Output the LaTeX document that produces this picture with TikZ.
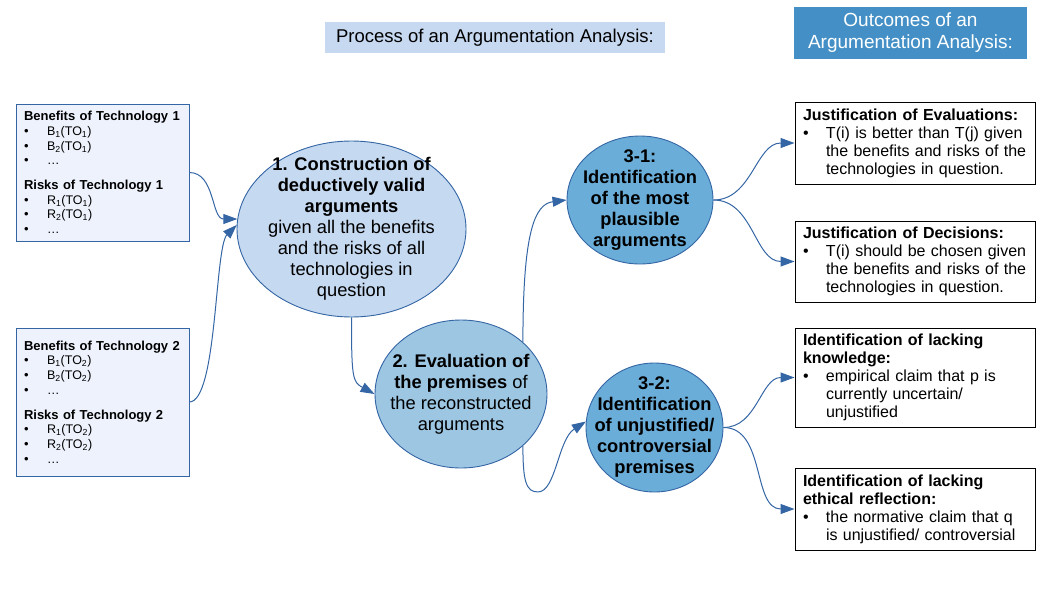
\documentclass[tikz,border=0pt]{standalone}
\usepackage{fontspec}
\setmainfont{Liberation Sans}
\usepackage{tikz}
\usetikzlibrary{arrows.meta, shapes.geometric, positioning}

\definecolor{linkblue}{HTML}{3465A4}
\definecolor{headfill}{HTML}{C6D9F1}
\definecolor{outfill}{HTML}{4490C6}
\definecolor{techfill}{HTML}{EEF2FC}
\definecolor{stepone}{HTML}{C5D9F0}
\definecolor{steptwo}{HTML}{9DC6E2}
\definecolor{stepthree}{HTML}{6AADD8}

\newcommand{\itm}[1]{\makebox[23pt][l]{\textbullet}{\fontsize{12.5}{14.7}\selectfont #1}}
\newcommand{\bul}{\makebox[23pt][l]{\textbullet}}
\newcommand{\ind}{\hspace*{23pt}}

\begin{document}
\begin{tikzpicture}[x=1pt, y=-1pt,
  head/.style={rectangle, fill=headfill, minimum width=340pt, minimum height=31pt,
               font=\fontsize{18.5}{22}\selectfont},
  outhead/.style={rectangle, fill=outfill, text=white, minimum width=233pt,
                  minimum height=52pt, inner sep=0pt, align=center,
                  font=\fontsize{19}{22}\selectfont},
  techbox/.style={rectangle, draw=linkblue, fill=techfill, text width=157pt,
                  inner xsep=8pt, align=left, font=\fontsize{13}{14.7}\selectfont},
  stepnode/.style={ellipse, draw=linkblue, line width=0.9pt, inner sep=-22pt,
                   align=center, font=\fontsize{18.3}{21}\selectfont},
  outbox/.style={rectangle, draw=black, line width=1pt, fill=white, text width=224pt,
                 inner xsep=8pt, align=left, font=\fontsize{16}{18}\selectfont},
  arrow/.style={-{Triangle[length=14pt, width=10pt]}, line width=1pt, linkblue},
]
\useasboundingbox (0,0) rectangle (1058,595);

% headings
\node[head] (title) at (495,37.5) {Process of an Argumentation Analysis:};
\node[outhead] (outcomes) at (910.5,33) {Outcomes of an\\Argumentation Analysis:};

% technologies
\node[techbox, minimum height=137pt] (techA) at (102.5,172.5)
  {\textbf{Benefits of Technology 1}\\
   \itm{B\textsubscript{1}(TO\textsubscript{1})}\\
   \itm{B\textsubscript{2}(TO\textsubscript{1})}\\
   \itm{\ldots}\\[10pt]
   \textbf{Risks of Technology 1}\\
   \itm{R\textsubscript{1}(TO\textsubscript{1})}\\
   \itm{R\textsubscript{2}(TO\textsubscript{1})}\\
   \itm{\ldots}};
\node[techbox, minimum height=148pt] (techB) at (102.5,402)
  {\textbf{Benefits of Technology 2}\\
   \itm{B\textsubscript{1}(TO\textsubscript{2})}\\
   \itm{B\textsubscript{2}(TO\textsubscript{2})}\\
   \itm{\ldots}\\[10pt]
   \textbf{Risks of Technology 2}\\
   \itm{R\textsubscript{1}(TO\textsubscript{2})}\\
   \itm{R\textsubscript{2}(TO\textsubscript{2})}\\
   \itm{\ldots}};

% process steps
\node[stepnode, fill=stepone, minimum width=229pt, minimum height=176pt] (construct) at (351.5,229)
  {\textbf{1. Construction of}\\ \textbf{deductively valid}\\ \textbf{arguments}\\
   given all the benefits\\ and the risks of all\\ technologies in\\ question};
\node[stepnode, fill=steptwo, minimum width=172pt, minimum height=148pt] (evaluate) at (461,394)
  {\textbf{2. Evaluation of}\\ \textbf{the premises} of\\ the reconstructed\\ arguments};
\node[stepnode, fill=stepthree, minimum width=146pt, minimum height=128pt,
      font=\fontsize{18.3}{21}\selectfont\bfseries] (plausible) at (640,200)
  {3-1:\\ Identification\\ of the most\\ plausible\\ arguments};
\node[stepnode, fill=stepthree, minimum width=137pt, minimum height=129pt,
      font=\fontsize{18.3}{21}\selectfont\bfseries] (premises) at (654.5,427.5)
  {3-2:\\ Identification\\ of unjustified/\\ controversial\\ premises};

% outcomes
\node[outbox, minimum height=82pt] (justEval) at (915,143)
  {\textbf{Justification of Evaluations:}\\
   \bul T(i) is better than T(j) given\\
   \ind the benefits and risks of the\\
   \ind technologies in question.};
\node[outbox, minimum height=81pt] (justDec) at (915,261.5)
  {\textbf{Justification of Decisions:}\\
   \bul T(i) should be chosen given\\
   \ind the benefits and risks of the\\
   \ind technologies in question.};
\node[outbox, minimum height=99pt] (lackKnow) at (915,377.5)
  {\textbf{Identification of lacking}\\
   \textbf{knowledge:}\\
   \bul empirical claim that p is\\
   \ind currently uncertain/\\
   \ind unjustified};
\node[outbox, minimum height=82pt] (lackEthic) at (915,509)
  {\textbf{Identification of lacking}\\
   \textbf{ethical reflection:}\\
   \bul the normative claim that q\\
   \ind is unjustified/ controversial};

% connectors
\draw[arrow] (techA.east) to[out=0, in=180] (construct.175);
\draw[arrow] (techB.east) .. controls +(28,0) and +(-22,22) .. (construct.178);
\draw[arrow] (construct.south) .. controls +(0,60) and +(-22,-12) .. (evaluate.west);
\draw[arrow] (evaluate.40) .. controls +(0,-110) and +(-32,4) .. (plausible.west);
\draw[arrow] (evaluate.-40) .. controls +(0,35) and +(-12,0) .. ++(15,46)
  .. controls +(18,0) and +(-28,18) .. (premises.175);
\draw[arrow] (plausible.east) to[out=0, in=180] (justEval.west);
\draw[arrow] (plausible.east) to[out=0, in=180] (justDec.west);
\draw[arrow] (premises.east) to[out=0, in=180] (lackKnow.west);
\draw[arrow] (premises.east) to[out=0, in=180] (lackEthic.west);
\end{tikzpicture}
\end{document}
